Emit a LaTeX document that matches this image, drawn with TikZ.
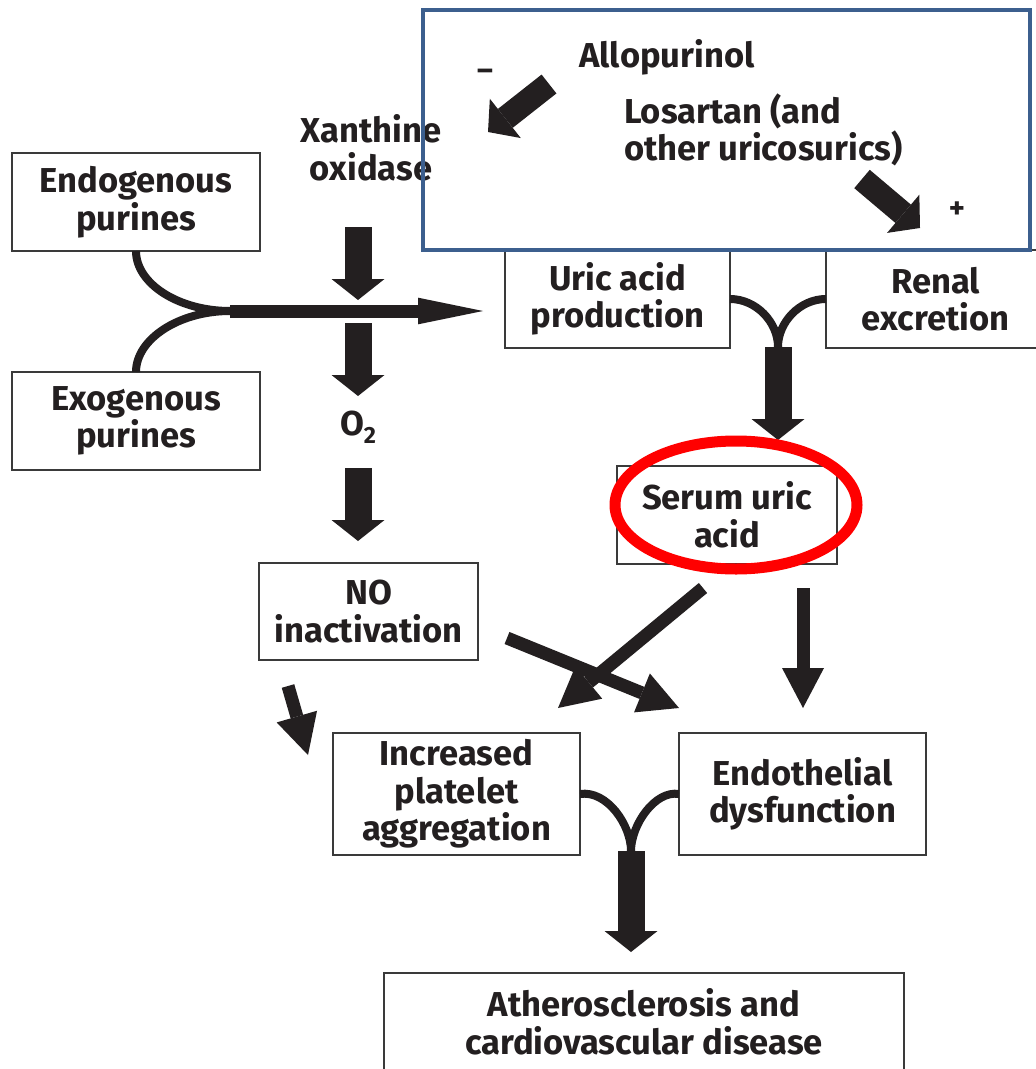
\documentclass[tikz,border=0pt]{standalone}
\usepackage{fontspec}
\setmainfont{Fira Sans}
\usetikzlibrary{arrows.meta,shapes.geometric}
\definecolor{ink}{HTML}{231F20}
\definecolor{framec}{HTML}{3C5F8E}
\definecolor{boxline}{HTML}{3A3A3A}
\definecolor{hl}{HTML}{FF0000}
\begin{document}
\begin{tikzpicture}[x=0.03cm,y=-0.03cm,
  every node/.style={font=\fontsize{29.5}{32}\selectfont\bfseries, text=ink, align=center, inner sep=0pt, outer sep=0pt},
  bx/.style 2 args={draw=boxline, line width=1.4pt, minimum width=#1*0.03cm, minimum height=#2*0.03cm},
  fat/.style={draw=ink, line width=0.81cm, -{Triangle[width=1.59cm, length=0.63cm, line width=0pt]}},
  fatd/.style={draw=ink, line width=0.72cm, -{Triangle[width=1.5cm, length=0.66cm, line width=0pt]}},
  thin/.style={draw=ink, line width=0.39cm, -{Triangle[width=1.26cm, length=1.2cm, line width=0pt]}},
  mainarr/.style={draw=ink, line width=0.39cm, -{Triangle[width=0.8cm, length=1.95cm, line width=0pt]}},
  curve/.style={draw=ink, line width=0.24cm},
  small/.style={font=\fontsize{26}{28}\selectfont\bfseries}
]
\useasboundingbox[fill=white] (0,0) rectangle (1035,1069);

% boxes
\node (endo)  [bx={248}{98}] at (136,202) {Endogenous\\purines};
\node (exo)   [bx={248}{98}] at (136,421) {Exogenous\\purines};
\node (uric)  [bx={225}{98}] at (617.5,299) {Uric acid\\production};
\node (renal) [bx={219}{98}] at (935.5,299) {Renal\\excretion};
\node (serum) [bx={220}{98}] at (727,515) {Serum uric\\acid};
\node (no)    [bx={219}{97}] at (368.5,611.5) {NO\\inactivation};
\node (plat)  [bx={247}{122}] at (456.5,794) {Increased\\platelet\\aggregation};
\node (endoth)[bx={247}{122}] at (802.5,794) {Endothelial\\dysfunction};
\node (ath)   [bx={520}{98}] at (644,1022) {Atherosclerosis and\\cardiovascular disease};

% labels
\node (xo) at (371,148) {Xanthine\\oxidase};
\node (o2) at (358,427) {O\raisebox{-0.45ex}{\fontsize{20}{20}\selectfont 2}};

% join points
\coordinate (j1) at (230,311);
\coordinate (j2) at (778,347);
\coordinate (j3) at (631,851);

% purine merge
\draw[curve] (endo.south) .. controls (136,284) and (179,311) .. (j1);
\draw[curve] (exo.north) .. controls (136,339) and (179,311) .. (j1);
\coordinate (t1) at (483,311);
\draw[mainarr] (j1) -- (t1);

% xanthine oxidase arrows
\coordinate (a1s) at (358,227); \coordinate (a1e) at (358,300);
\coordinate (a2s) at (358,323); \coordinate (a2e) at (358,396);
\coordinate (a3s) at (358,468); \coordinate (a3e) at (358,541);
\draw[fat] (a1s) -- (a1e);
\draw[fat] (a2s) -- (a2e);
\draw[fat] (a3s) -- (a3e);

% uric / renal merge
\draw[curve] (uric.east) .. controls (756,299) and (778,322) .. (j2);
\draw[curve] (renal.west) .. controls (800,299) and (778,322) .. (j2);
\coordinate (t2) at (778,440);
\draw[fat] (j2) -- (t2);

% serum acid arrows
\coordinate (s1) at (703,588); \coordinate (s1e) at (558,708);
\coordinate (s2) at (803,588); \coordinate (s2e) at (803,708);
\draw[thin] (s1) -- (s1e);
\draw[thin] (s2) -- (s2e);

% NO inactivation arrows
\coordinate (n1) at (507,638); \coordinate (n1e) at (679,708);
\coordinate (n2) at (288,686); \coordinate (n2e) at (308,755);
\draw[thin] (n1) -- (n1e);
\draw[thin] (n2) -- (n2e);

% platelet / endothelial merge
\draw[curve] (plat.east) .. controls (607,790) and (631,825) .. (j3);
\draw[curve] (endoth.west) .. controls (655,790) and (631,825) .. (j3);
\coordinate (t3) at (631,952);
\draw[fat] (j3) -- (t3);

% drug frame
\node (drugs) [draw=framec, line width=0.12cm, minimum width=607*0.03cm, minimum height=240*0.03cm] at (726.5,130) {};
\node (allo) at (667,57) {Allopurinol};
\node (losa) [anchor=west, align=left] at (624,130) {Losartan (and\\other uricosurics)};
\node (minus) [small] at (485,75) {–};
\node (plus)  [small] at (957,210) {+};
\coordinate (d1) at (549,84); \coordinate (d1e) at (488,132);
\coordinate (d2) at (862,179); \coordinate (d2e) at (920,228);
\draw[fatd] (d1) -- (d1e);
\draw[fatd] (d2) -- (d2e);

% highlight
\node (ring) [ellipse, draw=hl, line width=0.33cm, minimum width=242*0.03cm, minimum height=128*0.03cm] at (736,505) {};
\end{tikzpicture}
\end{document}
